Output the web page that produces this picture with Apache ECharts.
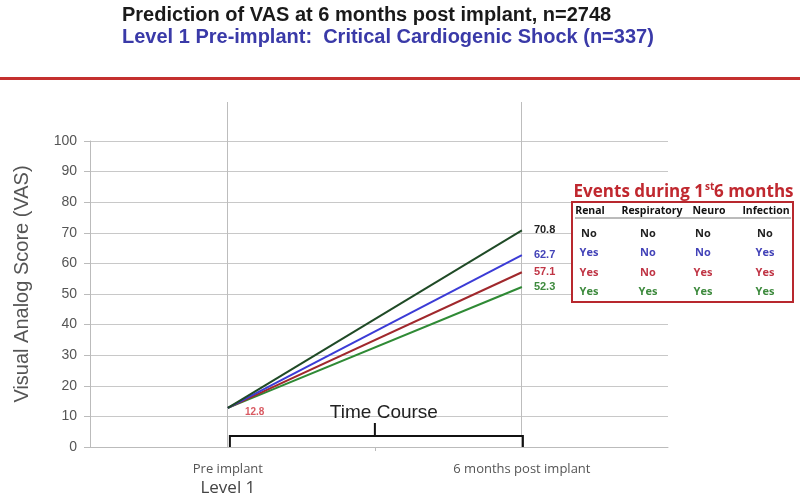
<!DOCTYPE html>
<html><head><meta charset="utf-8">
<script src="https://cdn.jsdelivr.net/npm/echarts@6/dist/echarts.min.js"></script>
<style>html,body{margin:0;padding:0;background:#fff}#c{width:800px;height:499px}</style>
</head><body><div id="c"></div>
<script>
// ---- data ----
const timePoints = [0, 1];
const timeLabels = ['Pre implant', '6 months post implant'];
const startValue = 12.8;
const endValues = [70.8, 62.7, 57.1, 52.3];
const seriesNames = ['No events', 'Renal + Infection', 'Renal + Neuro + Infection', 'All events'];
const lineColors = ['#1f4a26', '#3b3bd6', '#a0282c', '#2f8a35'];
const labelColors = ['#222222', '#4343b8', '#c03545', '#3d8a3d'];
const yTicks = [0, 10, 20, 30, 40, 50, 60, 70, 80, 90, 100];
const eventCols = ['Renal', 'Respiratory', 'Neuro', 'Infection'];
const eventRows = [
  ['No', 'No', 'No', 'No'],
  ['Yes', 'No', 'No', 'Yes'],
  ['Yes', 'No', 'Yes', 'Yes'],
  ['Yes', 'Yes', 'Yes', 'Yes']
];

const chart = echarts.init(document.getElementById('c'));
const series = endValues.map((v, i) => ({
  name: seriesNames[i],
  type: 'line',
  data: [[timePoints[0], startValue], [timePoints[1], v]],
  symbol: 'none',
  lineStyle: { color: lineColors[i], width: 2 },
  z: 5 - i,
  endLabel: {
    show: true,
    formatter: () => v.toFixed(1),
    color: labelColors[i],
    fontWeight: 'bold',
    fontSize: 11,
    fontFamily: 'Liberation Sans',
    distance: 12
  }
}));
series.push({
  type: 'scatter', data: [[timePoints[0], startValue]], symbolSize: 0,
  label: { show: true, position: 'right', offset: [12, 4], formatter: () => startValue.toFixed(1), color: '#d0303a', fontWeight: 'bold', fontSize: 10, fontFamily: 'Liberation Sans' },
  silent: true
});

const option = {
  animation: false,
  grid: { left: 90, right: 132, top: 141, bottom: 48 },
  xAxis: {
    type: 'value', min: -0.469, max: 1.497,
    axisLine: { show: true, onZero: false, lineStyle: { color: '#bbbbbb' } },
    axisTick: { show: true, customValues: [0.5], length: 4, lineStyle: { color: '#bbbbbb' } },
    splitLine: { show: false },
    axisLabel: {
      show: true, customValues: timePoints, margin: 14,
      formatter: (val) => val === 0 ? timeLabels[0] + '\n{b|Level 1}' : timeLabels[1],
      color: '#555555', fontSize: 13, fontFamily: 'Open Sans', lineHeight: 16,
      rich: { b: { fontSize: 17, color: '#444444', fontFamily: 'Open Sans', lineHeight: 22 } }
    }
  },
  yAxis: {
    type: 'value', min: 0, max: 100, interval: 10,
    axisLine: { show: true, onZero: false, lineStyle: { color: '#bbbbbb' } },
    axisTick: { show: true, length: 6, lineStyle: { color: '#bbbbbb' } },
    splitLine: { lineStyle: { color: '#c8c8c8' } },
    axisLabel: { color: '#555555', fontSize: 14, fontFamily: 'Liberation Sans', margin: 13 }
  },
  series: series
};
chart.setOption(option);

// decorations positioned via the axes
const p0 = chart.convertToPixel({ gridIndex: 0 }, [0, 0]);
const p1 = chart.convertToPixel({ gridIndex: 0 }, [1, 0]);
const pTop = chart.convertToPixel({ gridIndex: 0 }, [0, 100]);
const yBase = p0[1];
const graphics = [];
// y axis title
graphics.push({ type: 'text', x: 22, y: 284, rotation: Math.PI / 2, style: { text: 'Visual Analog Score (VAS)', fontSize: 20, fontFamily: 'Liberation Sans', fill: '#555555', align: 'center', verticalAlign: 'middle' } });
// title lines
graphics.push({ type: 'text', x: 122, y: 15, style: { text: 'Prediction of VAS at 6 months post implant, n=2748', fontSize: 20, fontFamily: 'Liberation Sans', fontWeight: 'bold', fill: '#1a1a1a', verticalAlign: 'middle' } });
graphics.push({ type: 'text', x: 122, y: 37, style: { text: 'Level 1 Pre-implant:  Critical Cardiogenic Shock (n=337)', fontSize: 20, fontFamily: 'Liberation Sans', fontWeight: 'bold', fill: '#3a3aa8', verticalAlign: 'middle' } });
graphics.push({ type: 'rect', shape: { x: 0, y: 77, width: 800, height: 3 }, style: { fill: '#c4302f' } });
// vertical time lines
[p0, p1].forEach(p => {
  const x = Math.round(p[0]) - 0.5;
  graphics.push({ type: 'line', shape: { x1: x, y1: pTop[1] - 39, x2: x, y2: yBase }, style: { stroke: '#bdbdbd', lineWidth: 1 }, z: 1 });
});
// bracket
const bY = yBase - 11, mid = (p0[0] + p1[0]) / 2;
graphics.push({ type: 'polyline', shape: { points: [[p0[0] + 2, yBase], [p0[0] + 2, bY], [p1[0] + 1, bY], [p1[0] + 1, yBase]] }, style: { stroke: '#111', lineWidth: 2, fill: null }, z: 10 });
graphics.push({ type: 'line', shape: { x1: mid, y1: bY, x2: mid, y2: bY - 13 }, style: { stroke: '#111', lineWidth: 2 }, z: 10 });
graphics.push({ type: 'text', x: mid + 9, y: bY - 23, style: { text: 'Time Course', fontSize: 19, fontFamily: 'Liberation Sans', fill: '#222', align: 'center', verticalAlign: 'middle' }, z: 10 });
// events table
const colX = [589, 648, 703, 765];
const headX = [590, 652, 709, 766];
const rowY = [234, 253, 273, 292];
graphics.push({ type: 'text', x: 704, y: 192, style: { text: 'Events during 1', fontSize: 17, fontFamily: 'Open Sans', fontWeight: 'bold', fill: '#c0282f', align: 'right', verticalAlign: 'middle' }, z: 20 });
graphics.push({ type: 'text', x: 705, y: 187, style: { text: 'st', fontSize: 10, fontFamily: 'Open Sans', fontWeight: 'bold', fill: '#c0282f', verticalAlign: 'middle' }, z: 20 });
graphics.push({ type: 'text', x: 714, y: 192, style: { text: '6 months', fontSize: 17, fontFamily: 'Open Sans', fontWeight: 'bold', fill: '#c0282f', verticalAlign: 'middle' }, z: 20 });
graphics.push({ type: 'rect', shape: { x: 572, y: 202, width: 221, height: 100 }, style: { fill: '#ffffff', stroke: '#b8282e', lineWidth: 2 }, z: 20 });
graphics.push({ type: 'line', shape: { x1: 575, y1: 218, x2: 791, y2: 218 }, style: { stroke: '#777', lineWidth: 1 }, z: 21 });
eventCols.forEach((c, j) => {
  graphics.push({ type: 'text', x: headX[j], y: 211, style: { text: c, fontSize: 10.5, fontFamily: 'Open Sans', fontWeight: 'bold', fill: '#111', align: 'center', verticalAlign: 'middle' }, z: 21 });
});
eventRows.forEach((row, i) => {
  row.forEach((v, j) => {
    graphics.push({ type: 'text', x: colX[j], y: rowY[i], style: { text: v, fontSize: 11, fontFamily: 'Open Sans', fontWeight: 'bold', fill: labelColors[i], align: 'center', verticalAlign: 'middle' }, z: 21 });
  });
});
chart.setOption({ graphic: graphics });
</script>
</body></html>
